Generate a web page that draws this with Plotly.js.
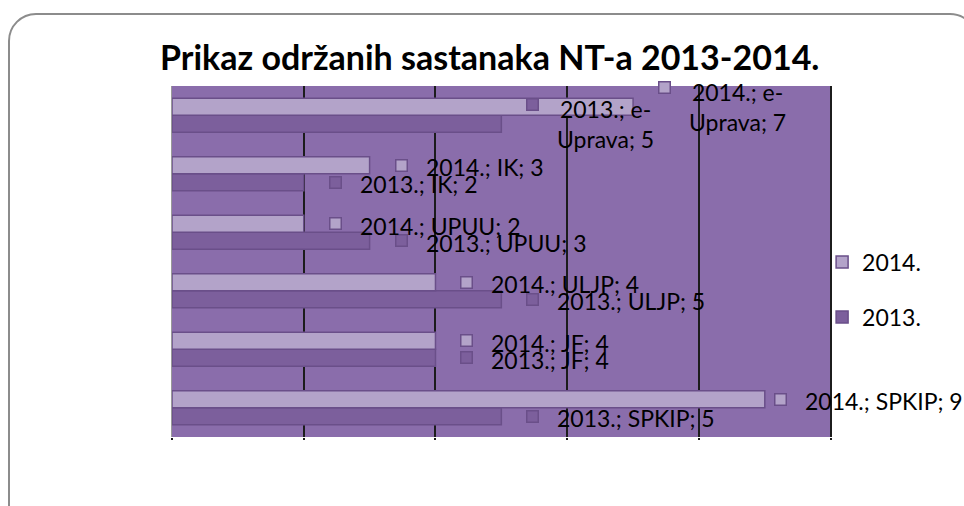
<!DOCTYPE html>
<html>
<head>
<meta charset="utf-8">
<script src="https://cdn.plot.ly/plotly-3.0.1.min.js"></script>
<style>
  html, body { margin: 0; padding: 0; background: #ffffff; }
  #wrap { position: relative; width: 964px; height: 506px; overflow: hidden; }
  #frame { position: absolute; left: 8px; top: 13px; width: 970px; height: 520px;
           border: 2px solid #8c8c8c; border-radius: 28px; box-sizing: border-box; pointer-events: none; }
  #chart { position: absolute; left: 0; top: 0; width: 964px; height: 506px; }
</style>
</head>
<body>
<div id="wrap">
  <div id="frame"></div>
  <div id="chart"></div>
</div>
<script>
// ---- data ----
const categories = ['SPKIP', 'JF', 'ULJP', 'UPUU', 'IK', 'e-Uprava'];
const categoryLabels = ['SPKIP', 'JF', 'ULJP', 'UPUU', 'IK', 'e-<br>Uprava'];
const values2013 = [5, 4, 5, 3, 2, 5];
const values2014 = [9, 4, 4, 2, 3, 7];
const seriesNames = ['2013.', '2014.'];
const xTicks = [0, 2, 4, 6, 8, 10];

// ---- styling ----
const colors = ['#7C5F9C', '#B3A3C9'];
const outline = '#6A4F89';
const bg = '#8A6DAB';
const labelFont = 'Lato, "Open Sans", sans-serif';

const margin = { l: 172, r: 132, t: 86, b: 69 };
const W = 964, H = 506;
const plotW = W - margin.l - margin.r;
const xMax = 10.02;
const pxPerUnit = plotW / xMax;
const bargap = 0.42;
const barOffset = (1 - bargap) / 4;

const seriesValues = [values2013, values2014];

const traces = seriesValues.map((vals, s) => ({
  type: 'bar',
  orientation: 'h',
  name: seriesNames[s],
  legendgroup: 'g' + s,
  legendrank: s === 1 ? 1 : 2,
  y: categories,
  x: vals,
  marker: { color: colors[s], line: { color: outline, width: 1.5 } },
  hoverinfo: 'none'
}));

const annotations = [];
seriesValues.forEach((vals, s) => {
  const off = s === 0 ? -barOffset : barOffset;
  vals.forEach((v, i) => {
    const label = seriesNames[s] + '; ' + categoryLabels[i] + '; ' + v;
    const wrapped = label.includes('<br>');
    const barEnd = v * pxPerUnit;
    const textStart = Math.min(barEnd + 54, plotW - 29);
    const textShift = textStart - barEnd;
    const boxShift = textShift - 29;
    // legend key square
    annotations.push({
      x: v, y: i + off, xref: 'x', yref: 'y',
      xanchor: 'left', yanchor: 'middle',
      xshift: boxShift, yshift: wrapped ? 19 : 0,
      text: '\u00a0', showarrow: false,
      width: 10, height: 10, borderpad: 0,
      bgcolor: colors[s], bordercolor: outline, borderwidth: 1.5,
      font: { size: 4 }
    });
    // label text
    annotations.push({
      x: v, y: i + off, xref: 'x', yref: 'y',
      xanchor: 'left', yanchor: 'middle',
      xshift: textShift, yshift: wrapped ? 0 : -2,
      text: label, showarrow: false, align: 'center',
      font: { family: labelFont, size: 23, color: '#000000' }
    });
  });
});

const layout = {
  width: W, height: H,
  margin: margin,
  paper_bgcolor: 'rgba(0,0,0,0)',
  plot_bgcolor: bg,
  title: {
    text: 'Prikaz održanih sastanaka NT-a 2013-2014.',
    font: { family: 'Lato, "Open Sans", sans-serif', size: 34, color: '#000000', weight: 'bold' },
    x: 0.508, xanchor: 'center', y: 0.885, yanchor: 'middle'
  },
  barmode: 'group',
  bargap: bargap,
  bargroupgap: 0,
  xaxis: {
    range: [0, xMax],
    tickvals: xTicks,
    showticklabels: false,
    showgrid: true, gridcolor: '#1c1c1c', gridwidth: 2,
    zeroline: false,
    showline: false,
    ticks: 'outside', ticklen: 2, tickwidth: 2, tickcolor: '#1c1c1c',
    fixedrange: true
  },
  yaxis: {
    type: 'category',
    range: [-0.5, categories.length - 0.5],
    autorange: false,
    showticklabels: false,
    showgrid: false,
    showline: true, linecolor: '#9a9a9a', linewidth: 1,
    fixedrange: true
  },
  legend: {
    x: 0.985, xanchor: 'left',
    y: 0.42, yanchor: 'middle',
    traceorder: 'grouped',
    tracegroupgap: 22,
    font: { family: labelFont, size: 23, color: '#000000' },
    bgcolor: 'rgba(0,0,0,0)'
  },
  annotations: annotations,
  showlegend: true
};

Plotly.newPlot('chart', traces, layout, { displayModeBar: false, staticPlot: true });
</script>
</body>
</html>
